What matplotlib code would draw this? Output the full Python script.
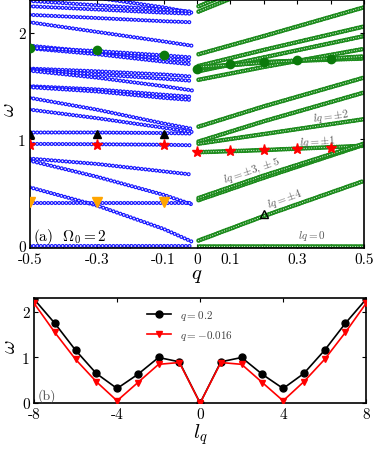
import matplotlib
matplotlib.use("Agg")
import matplotlib.pyplot as plt

plt.rcParams['font.family'] = 'cmr10'
plt.rcParams['mathtext.fontset'] = 'cm'
plt.rcParams['axes.unicode_minus'] = False
plt.rcParams['lines.scale_dashes'] = False

# --- panel (a): bands, blue for q<0, green for q>0 ---
q_left = [-0.5, -0.3, -0.1, -0.015]
blue_bands = [
    [2.40, 2.33, 2.24, 2.19],
    [2.30, 2.26, 2.22, 2.20],
    [2.25, 2.22, 2.19, 2.18],
    [2.17, 2.14, 2.11, 2.10],
    [2.10, 2.01, 1.92, 1.88],
    [1.88, 1.82, 1.76, 1.74],
    [1.855, 1.80, 1.73, 1.705],
    [1.86, 1.83, 1.79, 1.77],
    [1.665, 1.64, 1.61, 1.59],
    [1.655, 1.61, 1.57, 1.55],
    [1.645, 1.58, 1.50, 1.46],
    [1.50, 1.47, 1.42, 1.40],
    [1.49, 1.45, 1.39, 1.37],
    [1.39, 1.28, 1.15, 1.10],
    [1.28, 1.20, 1.11, 1.07],
    [1.065, 1.065, 1.06, 1.055],
    [0.958, 0.955, 0.95, 0.945],
    [0.82, 0.77, 0.70, 0.67],
    [0.80, 0.65, 0.48, 0.39],
    [0.55, 0.38, 0.16, 0.04],
    [0.405, 0.405, 0.405, 0.405],
    [0.0, 0.0, 0.0, 0.0],
]

q_right = [0.005, 0.2, 0.5]
green_bands = [
    [2.20, 2.45, 2.82],
    [2.25, 2.50, 2.87],
    [1.80, 1.97, 2.24],
    [1.69, 1.84, 2.06],
    [1.64, 1.77, 1.97],
    [1.56, 1.68, 1.85],
    [1.665, 1.727, 1.76],
    [1.68, 1.72, 1.78],
    [1.12, 1.31, 1.58],
    [0.98, 1.17, 1.44],
    [0.96, 1.05, 1.19],
    [0.88, 0.90, 0.94],
    [0.43, 0.64, 0.95],
    [0.45, 0.66, 0.96],
    [0.05, 0.28, 0.61],
    [0.0, 0.0, 0.0],
]

# highlighted states
dot_q = [-0.5, -0.3, -0.1, 0.0, 0.1, 0.2, 0.3, 0.4]
dot_w = [1.855, 1.836, 1.79, 1.665, 1.706, 1.727, 1.743, 1.752]
tri_q = [-0.5, -0.3, -0.1]
tri_w = [1.05, 1.05, 1.05]
star_q = [-0.5, -0.3, -0.1, 0.0, 0.1, 0.2, 0.3, 0.4]
star_w = [0.95, 0.95, 0.95, 0.88, 0.895, 0.90, 0.91, 0.92]
orange_q = [-0.5, -0.3, -0.1]
orange_w = [0.41, 0.41, 0.41]
open_q = [0.2]
open_w = [0.30]

band_labels = ['$lq=\\pm2$', '$lq=\\pm1$', '$lq=\\pm3,\\pm5$', '$lq=\\pm4$', '$lq=0$']
label_q = [0.40, 0.36, 0.165, 0.263, 0.345]
label_w = [1.22, 0.985, 0.715, 0.45, 0.10]
label_rot = [8, 4, 19, 20, 0]

# --- panel (b) ---
lq = list(range(-8, 9))
w_q02 = [2.28, 1.75, 1.16, 0.65, 0.32, 0.63, 1.0, 0.905, 0.0,
         0.905, 1.0, 0.63, 0.32, 0.65, 1.16, 1.75, 2.28]
w_qm = [2.19, 1.55, 0.96, 0.47, 0.05, 0.45, 0.85, 0.89, 0.0,
        0.89, 0.85, 0.45, 0.05, 0.47, 0.96, 1.55, 2.19]


def chain(ax, x, y, color, outer, inner, gap):
    # line of small hollow markers made from round-capped dots
    style = (0, (0.01, gap))
    ax.plot(x, y, color=color, lw=outer, linestyle=style,
            solid_capstyle='round', dash_capstyle='round', zorder=2)
    ax.plot(x, y, color='white', lw=inner, linestyle=style,
            solid_capstyle='round', dash_capstyle='round', zorder=2)


fig = plt.figure(figsize=(3.74, 4.52), dpi=100)
ax1 = fig.add_axes([0.080, 0.449, 0.893, 0.549])
ax2 = fig.add_axes([0.091, 0.106, 0.888, 0.232])

for w in blue_bands:
    chain(ax1, q_left, w, '#1a1aff', 3.0, 1.2, 2.6)
for w in green_bands:
    chain(ax1, q_right, w, '#1e8c1e', 3.4, 0.8, 1.8)

ax1.plot(dot_q, dot_w, 'o', color='#0b7a0b', ms=6, zorder=4)
ax1.plot(tri_q, tri_w, '^', color='black', ms=6, zorder=4)
ax1.plot(star_q, star_w, '*', color='red', ms=8, zorder=4)
ax1.plot(orange_q, orange_w, 'v', color='orange', ms=7, zorder=4)
ax1.plot(open_q, open_w, '^', mfc='none', mec='black', ms=6, mew=1, zorder=4)

for txt, x, y, r in zip(band_labels, label_q, label_w, label_rot):
    ax1.text(x, y, txt, rotation=r, ha='center', va='center',
             fontsize=8, color='0.35', zorder=5)

ax1.text(-0.49, 0.09, '(a)  $\\Omega_0=2$', fontsize=11, va='center', ha='left', zorder=5)

ax1.set_xlim(-0.5, 0.5)
ax1.set_ylim(-0.02, 2.31)
ax1.set_xticks([-0.5, -0.4, -0.3, -0.2, -0.1, 0, 0.1, 0.2, 0.3, 0.4, 0.5])
ax1.set_xticklabels(['-0.5', '', '-0.3', '', '-0.1', '0', '0.1', '', '0.3', '', '0.5'])
ax1.set_yticks([0, 1, 2])
ax1.set_yticklabels(['0', '1', '2'])
ax1.set_xlabel('$q$', fontsize=15, labelpad=0)
ax1.set_ylabel('$\\omega$', fontsize=15)
ax1.yaxis.set_label_coords(-0.036, 0.56)

ax2.plot(lq, w_q02, '-o', color='black', lw=1.2, ms=5, label='$q=0.2$', zorder=3)
ax2.plot(lq, w_qm, '-v', color='red', lw=1.2, ms=5, label='$q=-0.016$', zorder=4)
ax2.legend(loc='upper center', bbox_to_anchor=(0.47, 1.0), frameon=False,
           fontsize=8, handlelength=2.2, labelcolor='0.25')
ax2.text(-7.85, 0.03, '(b)', fontsize=10, ha='left', va='bottom', color='0.3')
ax2.set_xlim(-8, 8)
ax2.set_ylim(0, 2.3)
ax2.set_xticks([-8, -4, 0, 4, 8])
ax2.set_xticklabels(['-8', '-4', '0', '4', '8'])
ax2.set_yticks([0, 1, 2])
ax2.set_yticklabels(['0', '1', '2'])
ax2.set_xlabel('$l_q$', fontsize=15, labelpad=0)
ax2.set_ylabel('$\\omega$', fontsize=15)
ax2.yaxis.set_label_coords(-0.045, 0.55)

for ax in (ax1, ax2):
    ax.tick_params(direction='in', top=True, right=True, labelsize=11, length=3, pad=3)
    for s in ax.spines.values():
        s.set_linewidth(1.2)

fig.savefig('out.png', dpi=100)
